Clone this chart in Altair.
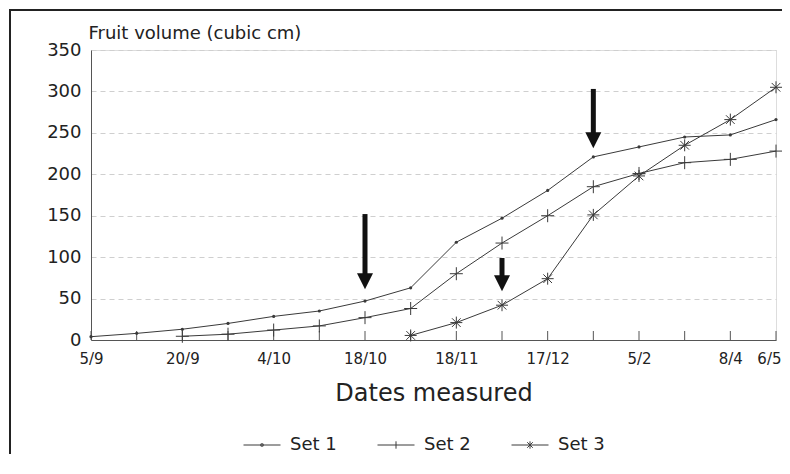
import json
import altair as alt
import pandas as pd

# ---- data ----
dates = ["5/9", "", "20/9", "", "4/10", "", "18/10", "", "18/11", "", "17/12", "",
         "5/2", "", "8/4", "6/5"]
idx = list(range(len(dates)))
series = ["Set 1", "Set 2", "Set 3"]
set1 = [4, 8, 13, 20, 28.5, 35, 47, 63, 118, 147, 180.5, 221, 233, 245, 247.5, 266]
set2 = [None, None, 4.5, 7, 12, 17, 27, 38, 80, 117, 150, 185, 201, 214, 218, 228]
set3 = [None, None, None, None, None, None, None, 5.5, 21, 42, 74, 151, 198, 235, 266, 305]
y_ticks = [0, 50, 100, 150, 200, 250, 300, 350]

arrow_idx = [6, 9, 11]
arrow_top = [152, 99, 303]
arrow_head_top = [79, 77, 249]
arrow_head_mid = [71, 68.5, 241]

rows = []
for name, vals in zip(series, [set1, set2, set3]):
    for i, v in zip(idx, vals):
        if v is not None:
            rows.append({"idx": i, "v": v, "series": name})
df = pd.DataFrame(rows)
arrows = pd.DataFrame({"idx": arrow_idx, "top": arrow_top,
                       "head_top": arrow_head_top, "head_mid": arrow_head_mid})
ticks_df = pd.DataFrame({"idx": idx})

FONT = "DejaVu Sans"
INK = "#222222"
LINE = "#3a3a3a"

PLUS = "M-1,0L1,0M0,-1L0,1"
STAR = "M-1,0L1,0M0,-1L0,1M-0.72,-0.72L0.72,0.72M-0.72,0.72L0.72,-0.72"
HEAD = "M-1,-1L1,-1L0,1Z"
LEG1 = "M-1,0L1,0M-0.06,-0.06L0.06,-0.06L0.06,0.06L-0.06,0.06Z"
LEG2 = "M-1,0L1,0M0,-0.2L0,0.2"
LEG3 = "M-1,0L1,0M0,-0.2L0,0.2M-0.15,-0.15L0.15,0.15M-0.15,0.15L0.15,-0.15"

label_expr = json.dumps(dates) + "[datum.value]"
last = len(dates) - 1

x_enc = alt.X(
    "idx:Q",
    scale=alt.Scale(domain=[0, last], nice=False, zero=False),
    axis=alt.Axis(
        values=[i for i, d in enumerate(dates) if d],
        labelExpr=label_expr,
        ticks=False,
        grid=False,
        domainColor="#555555",
        labelFont=FONT,
        labelFontSize=15,
        labelColor=INK,
        labelPadding=11,
        labelFlush=False,
        labelAlign={"condition": {"test": f"datum.value == {last}", "value": "right"},
                    "value": "center"},
        labelOffset={"condition": {"test": f"datum.value == {last}", "value": 5},
                     "value": 0},
        title="Dates measured",
        titleFont=FONT,
        titleFontSize=24,
        titleFontWeight="normal",
        titleColor=INK,
        titleBaseline="alphabetic",
        titleY=60,
    ),
)
y_enc = alt.Y(
    "v:Q",
    scale=alt.Scale(domain=[0, 350], nice=False),
    axis=alt.Axis(
        values=y_ticks,
        ticks=False,
        grid=True,
        gridColor="#cfcfcf",
        gridDash=[5, 4],
        gridWidth=1,
        domainColor="#555555",
        labelFont=FONT,
        labelFontSize=18,
        labelColor=INK,
        labelPadding=10,
        title="Fruit volume (cubic cm)",
        titleFont=FONT,
        titleFontSize=18,
        titleFontWeight="normal",
        titleColor=INK,
        titleAngle=0,
        titleAlign="left",
        titleBaseline="alphabetic",
        titleX=-3,
        titleY=-12,
    ),
)

base = alt.Chart(df)

lines = base.mark_line(color=LINE, strokeWidth=1).encode(
    x=x_enc, y=y_enc, detail="series:N", order="idx:Q"
)

pts1 = base.transform_filter(alt.datum.series == "Set 1").mark_point(
    shape="circle", filled=True, color=LINE, size=10, opacity=1
).encode(x="idx:Q", y="v:Q")
pts2 = base.transform_filter(alt.datum.series == "Set 2").mark_point(
    shape=PLUS, filled=False, color=LINE, size=169, strokeWidth=1, opacity=1
).encode(x="idx:Q", y="v:Q")
pts3 = base.transform_filter(alt.datum.series == "Set 3").mark_point(
    shape=STAR, filled=False, color=LINE, size=144, strokeWidth=1, opacity=1
).encode(x="idx:Q", y="v:Q")

# x-axis ticks drawn upward inside the plot
xticks = alt.Chart(ticks_df).mark_rule(color="#555555", strokeWidth=1).encode(
    x="idx:Q", y=alt.value(290), y2=alt.value(281)
)

shafts = alt.Chart(arrows).mark_rule(color="#111111", strokeWidth=5).encode(
    x="idx:Q", y="top:Q", y2="head_top:Q"
)
heads = alt.Chart(arrows).mark_point(
    shape=HEAD, filled=True, color="#111111", size=256, opacity=1
).encode(x="idx:Q", y="head_mid:Q")

legend_layer = base.transform_filter("datum.v < 0").mark_point(
    filled=False, color=LINE, strokeWidth=1, opacity=1
).encode(
    x="idx:Q",
    y="v:Q",
    shape=alt.Shape(
        "series:N",
        scale=alt.Scale(domain=series, range=[LEG1, LEG2, LEG3]),
        legend=alt.Legend(
            orient="none",
            legendX=152,
            legendY=376,
            direction="horizontal",
            columns=3,
            title=None,
            padding=0,
            symbolSize=1369,
            symbolStrokeColor=LINE,
            symbolFillColor="transparent",
            symbolStrokeWidth=1,
            labelFont=FONT,
            labelFontSize=18,
            labelColor=INK,
            labelOffset=9,
            columnPadding=38,
        ),
    ),
)

# outer figure frame (top and left edges of the scanned figure)
frame_top = alt.Chart(ticks_df.head(1)).mark_rule(color="#222222", strokeWidth=2).encode(
    x=alt.value(-82), x2=alt.value(700), y=alt.value(-40)
)
frame_left = alt.Chart(ticks_df.head(1)).mark_rule(color="#222222", strokeWidth=2).encode(
    x=alt.value(-81), y=alt.value(-41), y2=alt.value(430)
)

chart = alt.layer(
    xticks, lines, pts1, pts2, pts3, shafts, heads, legend_layer, frame_top, frame_left
).properties(
    width=685,
    height=290,
    autosize=alt.AutoSizeParams(type="none"),
    padding={"left": 83, "top": 42, "right": 6, "bottom": 114},
).configure_view(
    stroke="#555555", strokeWidth=1
).configure(
    background="white"
)

chart.save("out.html", embed_options={"renderer": "svg", "actions": False})
